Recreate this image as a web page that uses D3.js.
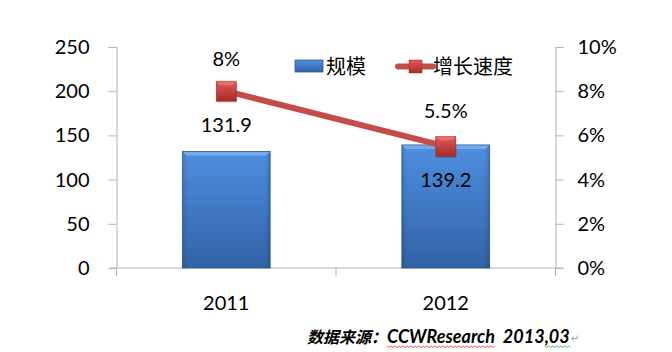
<!DOCTYPE html>
<html><head><meta charset="utf-8">
<script src="https://cdn.jsdelivr.net/npm/d3@7"></script>
<style>html,body{margin:0;padding:0;background:#fff;}svg{display:block;}</style>
</head><body>
<svg id="c" width="672" height="352"></svg>
<script>
const categories = ["2011", "2012"];
const scaleValues = [131.9, 139.2];
const growthValues = [8, 5.5];
const growthLabels = ["8%", "5.5%"];
const leftTicks = [0, 50, 100, 150, 200, 250];
const rightTicks = [0, 2, 4, 6, 8, 10];
const legendNames = ["规模", "增长速度"];
const sourceText = ["数据来源：", "CCWResearch", "  2013,", "03"];

const svg = d3.select("#c");
const font = "Lato, 'Noto Sans CJK SC', sans-serif";
const m = {l: 116.5, r: 555.5, t: 47, b: 268};

const x = d3.scaleBand().domain(categories).range([m.l, m.r]).paddingInner(0.6).paddingOuter(0.3);
const xb = d3.scaleBand().domain(categories).range([m.l, m.r]);
const yL = d3.scaleLinear().domain([0, 250]).range([m.b, m.t]);
const yR = d3.scaleLinear().domain([0, 10]).range([m.b, m.t]);

const defs = svg.append("defs");
const bg = defs.append("linearGradient").attr("id", "barG").attr("x1", 0).attr("y1", 0).attr("x2", 0).attr("y2", 1);
bg.append("stop").attr("offset", "0%").attr("stop-color", "#4d8fde");
bg.append("stop").attr("offset", "100%").attr("stop-color", "#3262a6");
const bh = defs.append("linearGradient").attr("id", "barH").attr("x1", 0).attr("y1", 0).attr("x2", 1).attr("y2", 0);
bh.append("stop").attr("offset", "0%").attr("stop-color", "#000").attr("stop-opacity", 0.12);
bh.append("stop").attr("offset", "6%").attr("stop-color", "#000").attr("stop-opacity", 0);
bh.append("stop").attr("offset", "94%").attr("stop-color", "#000").attr("stop-opacity", 0);
bh.append("stop").attr("offset", "100%").attr("stop-color", "#000").attr("stop-opacity", 0.15);
const mg = defs.append("linearGradient").attr("id", "mkG").attr("x1", 0).attr("y1", 0).attr("x2", 0).attr("y2", 1);
mg.append("stop").attr("offset", "0%").attr("stop-color", "#e05a58");
mg.append("stop").attr("offset", "100%").attr("stop-color", "#a52a28");

// axes
const axisColor = "#b3b3b3";
const gL = svg.append("g").attr("transform", `translate(${m.l},0)`)
  .call(d3.axisLeft(yL).tickValues(leftTicks).tickSize(8).tickPadding(19));
const gR = svg.append("g").attr("transform", `translate(${m.r},0)`)
  .call(d3.axisRight(yR).tickValues(rightTicks).tickSize(8).tickPadding(14).tickFormat(d => d + "%"));
const gX = svg.append("g").attr("transform", `translate(0,${m.b})`)
  .call(d3.axisBottom(xb).tickSize(0).tickPadding(28));
[gL, gR, gX].forEach(g => {
  g.select(".domain").attr("stroke", axisColor);
  g.selectAll(".tick line").attr("stroke", axisColor);
  g.selectAll(".tick text").attr("fill", "#000").style("font-family", font).style("font-size", "20px");
});
gR.selectAll(".tick").filter(d => d === 0).select("line").remove();
gL.selectAll(".tick").filter(d => d === 0).select("line").remove();
gX.select(".domain").remove();
gX.append("line").attr("x1", m.l - 7).attr("x2", m.r + 8).attr("stroke", axisColor);
const xTickPos = [m.l, ...categories.slice(1).map(c => xb(c)), m.r];
gX.selectAll(".xt").data(xTickPos).join("line").attr("class", "xt")
  .attr("x1", d => d).attr("x2", d => d).attr("y1", 0).attr("y2", 8).attr("stroke", axisColor);

// bars
const bars = svg.append("g");
categories.forEach((c, i) => {
  const bx = x(c), bw = x.bandwidth(), by = yL(scaleValues[i]), bhgt = yL(0) - yL(scaleValues[i]);
  bars.append("rect").attr("x", bx).attr("y", by).attr("width", bw).attr("height", bhgt)
    .attr("fill", "url(#barG)").attr("stroke", "#2f5a94").attr("stroke-width", 0.8);
  bars.append("rect").attr("x", bx).attr("y", by).attr("width", bw).attr("height", bhgt).attr("fill", "url(#barH)");
  bars.append("path").attr("d", `M${bx + 0.5},${by + 0.5} L${bx + bw - 0.5},${by + 0.5} L${bx + bw - 4},${by + 4} L${bx + 4},${by + 4} Z`)
    .attr("fill", "#7eb2f0").attr("opacity", 0.8);
});

// line
const cx = c => xb(c) + xb.bandwidth() / 2;
const line = d3.line().x((d, i) => cx(categories[i])).y(d => yR(d));
svg.append("path").attr("d", line(growthValues)).attr("fill", "none").attr("stroke", "#c44d4a").attr("stroke-width", 6);
const mk = svg.append("g");
growthValues.forEach((v, i) => {
  const px = cx(categories[i]), py = yR(v), s = 20;
  mk.append("rect").attr("x", px - s / 2 + 1).attr("y", py - s / 2 + 1.5).attr("width", s).attr("height", s).attr("fill", "#000").attr("opacity", 0.15);
  mk.append("rect").attr("x", px - s / 2).attr("y", py - s / 2).attr("width", s).attr("height", s).attr("fill", "url(#mkG)").attr("stroke", "#9e2c2a").attr("stroke-width", 0.6);
  mk.append("path").attr("d", `M${px - s / 2},${py - s / 2} L${px + s / 2},${py - s / 2} L${px + s / 2 - 4},${py - s / 2 + 4} L${px - s / 2 + 4},${py - s / 2 + 4} Z`).attr("fill", "#f08080").attr("opacity", 0.6);
});

// data labels
const lbl = svg.append("g").style("font-family", font).style("font-size", "20px").attr("text-anchor", "middle").attr("fill", "#000");
lbl.append("text").attr("x", cx(categories[0])).attr("y", yR(growthValues[0]) - 25).text(growthLabels[0]);
lbl.append("text").attr("x", cx(categories[0])).attr("y", yL(scaleValues[0]) - 19).text(scaleValues[0].toFixed(1));
lbl.append("text").attr("x", cx(categories[1])).attr("y", yR(growthValues[1]) - 28).text(growthLabels[1]);
lbl.append("text").attr("x", cx(categories[1])).attr("y", yL(scaleValues[1]) + 42).text(scaleValues[1].toFixed(1));

// legend
const lg = svg.append("g");
lg.append("rect").attr("x", 295).attr("y", 60).attr("width", 28).attr("height", 12).attr("fill", "url(#barG)").attr("stroke", "#2f5a94").attr("stroke-width", 0.8);
lg.append("text").attr("x", 326).attr("y", 74).text(legendNames[0]).style("font-family", "'Noto Sans CJK SC', sans-serif").style("font-size", "20px");
lg.append("line").attr("x1", 398).attr("x2", 433).attr("y1", 66.5).attr("y2", 66.5).attr("stroke", "#c44d4a").attr("stroke-width", 6).attr("stroke-linecap", "round");
lg.append("rect").attr("x", 409).attr("y", 60).attr("width", 13).attr("height", 13).attr("fill", "url(#mkG)").attr("stroke", "#9e2c2a").attr("stroke-width", 0.5);
lg.append("text").attr("x", 433).attr("y", 74).text(legendNames[1]).style("font-family", "'Noto Sans CJK SC', sans-serif").style("font-size", "20px");

// source
const src = svg.append("text").attr("x", 307).attr("y", 343).style("font-weight", "bold").style("font-style", "italic").attr("fill", "#000").style("white-space", "pre");
const t0 = src.append("tspan").text(sourceText[0]).style("font-family", "'Noto Sans CJK SC', sans-serif").style("font-size", "16px");
const t1 = src.append("tspan").text(sourceText[1]).style("font-family", font).style("font-size", "18px");
const t2 = src.append("tspan").text(sourceText[2]).style("font-family", font).style("font-size", "18px");
const t3 = src.append("tspan").text(sourceText[3]).style("font-family", font).style("font-size", "18px");
const bb = src.node().getBBox();
svg.append("text").attr("x", bb.x + bb.width + 1).attr("y", 342).text("↵").style("font-size", "10px").attr("fill", "#999").style("font-family", "DejaVu Sans");
function wavy(x1, x2, y, color) {
  let d = `M${x1},${y}`;
  for (let xx = x1, k = 0; xx < x2; xx += 2, k++) d += ` L${xx + 2},${y + (k % 2 ? 0 : 1.5)}`;
  svg.append("path").attr("d", d).attr("fill", "none").attr("stroke", color).attr("stroke-width", 0.8);
}
const n = src.node();
const s1 = n.getStartPositionOfChar(sourceText[0].length).x;
const e1 = n.getEndPositionOfChar(sourceText[0].length + sourceText[1].length - 1).x;
const idx3 = sourceText[0].length + sourceText[1].length + sourceText[2].length;
const s3 = n.getStartPositionOfChar(idx3 - 1).x;
const e3 = n.getEndPositionOfChar(idx3 + sourceText[3].length - 1).x;
wavy(s1, e1, 346, "#e03030");
wavy(s3, e3, 346, "#30a030");
</script>
</body></html>
